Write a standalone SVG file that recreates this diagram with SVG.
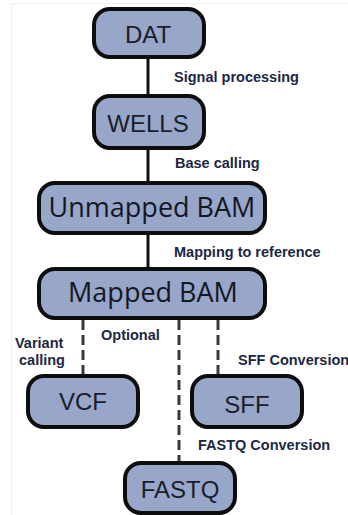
<svg xmlns="http://www.w3.org/2000/svg" width="348" height="515" viewBox="0 0 348 515">
  <style>
    .box { fill: #97a6c9; stroke: #0d0d0d; stroke-width: 4; }
    .nt { font-family: "Liberation Sans", Arial, sans-serif; font-size: 24px; fill: #1b1d2b; text-anchor: middle; }
    .bt { font-family: "Open Sans", "Noto Sans", sans-serif; font-size: 27px; fill: #15171f; text-anchor: middle; }
    .lbl { font-family: "Liberation Sans", Arial, sans-serif; font-size: 14.5px; font-weight: bold; fill: #1c2745; }
    .solid { stroke: #111; stroke-width: 3; fill: none; }
    .dash { stroke: #3a3a3a; stroke-width: 3; fill: none; stroke-dasharray: 10 5; }
  </style>
  <rect x="0" y="0" width="348" height="515" fill="#ffffff"/>
  <path d="M11 3.5 H348 M11.5 3 V515" stroke="#efefe6" stroke-width="1" fill="none"/>

  <g id="connectors">
    <line class="solid" x1="148" y1="57" x2="148" y2="95"/>
    <line class="solid" x1="148" y1="149" x2="148" y2="182"/>
    <line class="solid" x1="148" y1="233" x2="148" y2="268"/>
    <line class="dash" x1="83" y1="320" x2="83" y2="375"/>
    <line class="dash" x1="179" y1="320" x2="179" y2="462"/>
    <line class="dash" x1="218" y1="320" x2="218" y2="375"/>
  </g>

  <g id="labels">
    <text class="lbl" x="174" y="82">Signal processing</text>
    <text class="lbl" x="175" y="168">Base calling</text>
    <text class="lbl" x="174" y="257">Mapping to reference</text>
    <text class="lbl" x="101" y="340">Optional</text>
    <text class="lbl" x="15" y="348">Variant</text>
    <text class="lbl" x="19" y="365">calling</text>
    <text class="lbl" x="238" y="365">SFF Conversion</text>
    <text class="lbl" x="198" y="450">FASTQ Conversion</text>
  </g>

  <g id="node-dat">
    <rect class="box" x="94" y="9" width="110" height="48" rx="16"/>
    <text class="nt" x="148" y="43">DAT</text>
  </g>
  <g id="node-wells">
    <rect class="box" x="94" y="96" width="110" height="52" rx="16"/>
    <text class="nt" x="148" y="132">WELLS</text>
  </g>
  <g id="node-unmapped-bam">
    <rect class="box" x="39" y="183" width="226" height="50" rx="16"/>
    <text class="bt" x="152" y="217">Unmapped BAM</text>
  </g>
  <g id="node-mapped-bam">
    <rect class="box" x="39" y="269" width="226" height="49" rx="16"/>
    <text class="bt" x="153" y="302">Mapped BAM</text>
  </g>
  <g id="node-vcf">
    <rect class="box" x="28" y="376" width="110" height="51" rx="16"/>
    <text class="nt" x="83" y="410">VCF</text>
  </g>
  <g id="node-sff">
    <rect class="box" x="192" y="376" width="110" height="51" rx="16"/>
    <text class="nt" x="247" y="413">SFF</text>
  </g>
  <g id="node-fastq">
    <rect class="box" x="125" y="463" width="110" height="50" rx="16"/>
    <text class="nt" x="180" y="498">FASTQ</text>
  </g>
</svg>
